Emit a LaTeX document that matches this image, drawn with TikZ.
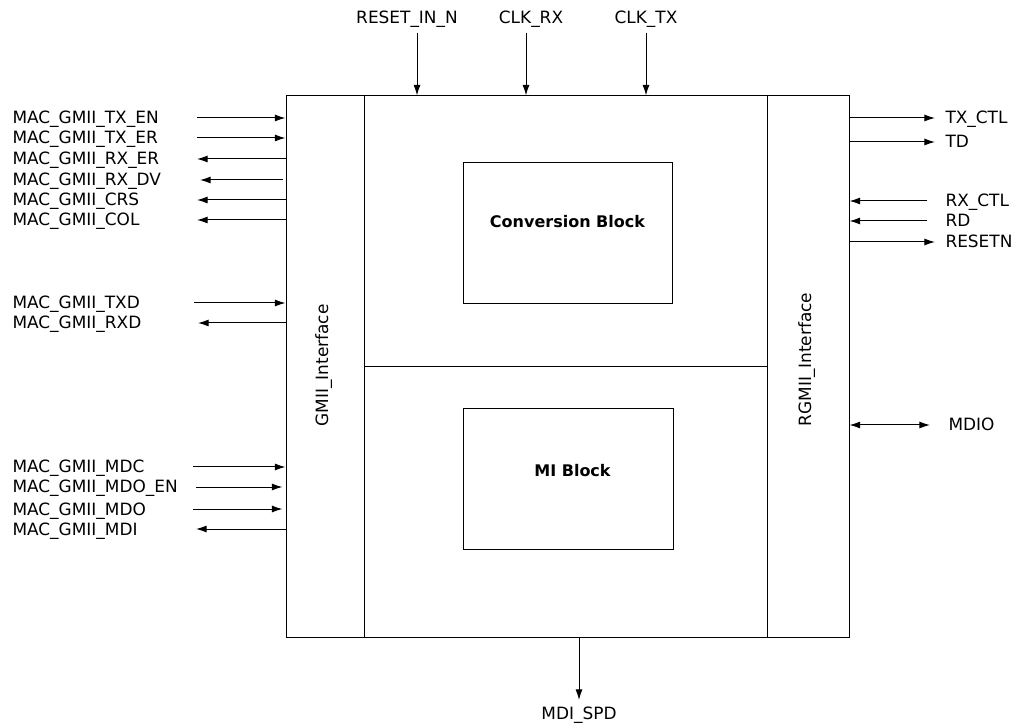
\documentclass[tikz,border=0pt]{standalone}
\usepackage{fontspec}
\setmainfont{DejaVu Sans}
\usetikzlibrary{arrows.meta}

\begin{document}
\begin{tikzpicture}[x=0.75pt, y=-0.75pt, line width=0.75pt,
    sig/.style={-{Latex[length=8pt,width=5.25pt]}},
    bisig/.style={{Latex[length=8pt,width=5.25pt]}-{Latex[length=8pt,width=5.25pt]}},
    pin/.style={inner sep=0pt, font=\fontsize{12.7}{15}\selectfont},
    blk/.style={draw, inner sep=0pt},
    blktxt/.style={inner sep=0pt, anchor=base, font=\fontsize{12}{14}\selectfont\bfseries}]
    \useasboundingbox (0,0) rectangle (1014,723);

    % frame and interface columns
    \node[blk, minimum width=422.25pt, minimum height=405.75pt] (chip) at (567.5,366.5) {};
    \node[blk, minimum width=58.5pt, minimum height=405.75pt] (gmii) at (325,366.5) {};
    \node[blk, minimum width=61.5pt, minimum height=405.75pt] (rgmii) at (808,366.5) {};
    \draw (gmii.east |- 0,367) -- (rgmii.west |- 0,367);

    \node[pin, rotate=90, anchor=base west] (gmiitxt) at (328,427) {GMII\_Interface};
    \node[pin, rotate=90, anchor=base west] (rgmiitxt) at (811,427) {RGMII\_Interface};

    % inner blocks
    \node[blk, minimum width=156.75pt, minimum height=105.75pt] (conv) at (567.5,233.5) {};
    \node[blktxt] (convtxt) at (567.5,228) {Conversion Block};
    \node[blk, minimum width=157.5pt, minimum height=105pt] (mi) at (568,479) {};
    \node[blktxt] (mitxt) at (572.5,477) {MI Block};

    % GMII side
    \node[pin, anchor=base west] (txen) at (12,124) {MAC\_GMII\_TX\_EN};
    \node[pin, anchor=base west] (txer) at (12,144) {MAC\_GMII\_TX\_ER};
    \node[pin, anchor=base west] (rxer) at (12,165) {MAC\_GMII\_RX\_ER};
    \node[pin, anchor=base west] (rxdv) at (12,186) {MAC\_GMII\_RX\_DV};
    \node[pin, anchor=base west] (crs) at (12,206) {MAC\_GMII\_CRS};
    \node[pin, anchor=base west] (col) at (12,226) {MAC\_GMII\_COL};
    \node[pin, anchor=base west] (txd) at (12,309) {MAC\_GMII\_TXD};
    \node[pin, anchor=base west] (rxd) at (12,329) {MAC\_GMII\_RXD};
    \node[pin, anchor=base west] (mdc) at (12,473) {MAC\_GMII\_MDC};
    \node[pin, anchor=base west] (mdoen) at (12,493) {MAC\_GMII\_MDO\_EN};
    \node[pin, anchor=base west] (mdo) at (12,515) {MAC\_GMII\_MDO};
    \node[pin, anchor=base west] (mdi) at (12,535) {MAC\_GMII\_MDI};

    \coordinate (txen-p) at (197,118);
    \coordinate (txer-p) at (197,138);
    \coordinate (rxer-p) at (197,159);
    \coordinate (rxdv-p) at (200,180);
    \coordinate (crs-p) at (197,200);
    \coordinate (col-p) at (197,220);
    \coordinate (txd-p) at (194,303);
    \coordinate (rxd-p) at (198,323);
    \coordinate (mdc-p) at (193,467);
    \coordinate (mdoen-p) at (196,487);
    \coordinate (mdo-p) at (193,509);
    \coordinate (mdi-p) at (196,529);

    \draw[sig] (txen-p) -- (txen-p -| chip.west);
    \draw[sig] (txer-p) -- (txer-p -| chip.west);
    \draw[sig] (rxer-p -| chip.west) -- (rxer-p);
    \draw[sig, shorten <=2.25pt] (rxdv-p -| chip.west) -- (rxdv-p);
    \draw[sig] (crs-p -| chip.west) -- (crs-p);
    \draw[sig] (col-p -| chip.west) -- (col-p);
    \draw[sig] (txd-p) -- (txd-p -| chip.west);
    \draw[sig] (rxd-p -| chip.west) -- (rxd-p);
    \draw[sig] (mdc-p) -- (mdc-p -| chip.west);
    \draw[sig, shorten >=2.25pt] (mdoen-p) -- (mdoen-p -| chip.west);
    \draw[sig, shorten >=2.25pt] (mdo-p) -- (mdo-p -| chip.west);
    \draw[sig] (mdi-p -| chip.west) -- (mdi-p);

    % RGMII side
    \node[pin, anchor=base west] (txctl) at (945,124) {TX\_CTL};
    \node[pin, anchor=base west] (td) at (945,148) {TD};
    \node[pin, anchor=base west] (rxctl) at (945,207) {RX\_CTL};
    \node[pin, anchor=base west] (rd) at (945,227) {RD};
    \node[pin, anchor=base west] (resetn) at (945,248) {RESETN};
    \node[pin, anchor=base west] (mdio) at (948,431) {MDIO};

    \coordinate (txctl-p) at (935,118);
    \coordinate (td-p) at (935,142);
    \coordinate (rxctl-p) at (927,201);
    \coordinate (rd-p) at (927,221);
    \coordinate (resetn-p) at (935,242);
    \coordinate (mdio-p) at (930,425);

    \draw[sig] (txctl-p -| chip.east) -- (txctl-p);
    \draw[sig] (td-p -| chip.east) -- (td-p);
    \draw[sig] (rxctl-p) -- (rxctl-p -| chip.east);
    \draw[sig] (rd-p) -- (rd-p -| chip.east);
    \draw[sig] (resetn-p -| chip.east) -- (resetn-p);
    \draw[bisig] (mdio-p -| chip.east) -- (mdio-p);

    % top and bottom
    \node[pin, anchor=base] (rstin) at (407,24) {RESET\_IN\_N};
    \node[pin, anchor=base] (clkrx) at (531,24) {CLK\_RX};
    \node[pin, anchor=base] (clktx) at (646,24) {CLK\_TX};
    \node[pin, anchor=base] (mdispd) at (579,719) {MDI\_SPD};

    \coordinate (rstin-p) at (417,33);
    \coordinate (clkrx-p) at (526,33);
    \coordinate (clktx-p) at (646,33);
    \coordinate (mdispd-p) at (579,700);

    \draw[sig] (rstin-p) -- (rstin-p |- chip.north);
    \draw[sig] (clkrx-p) -- (clkrx-p |- chip.north);
    \draw[sig] (clktx-p) -- (clktx-p |- chip.north);
    \draw[sig] (mdispd-p |- chip.south) -- (mdispd-p);
\end{tikzpicture}
\end{document}
